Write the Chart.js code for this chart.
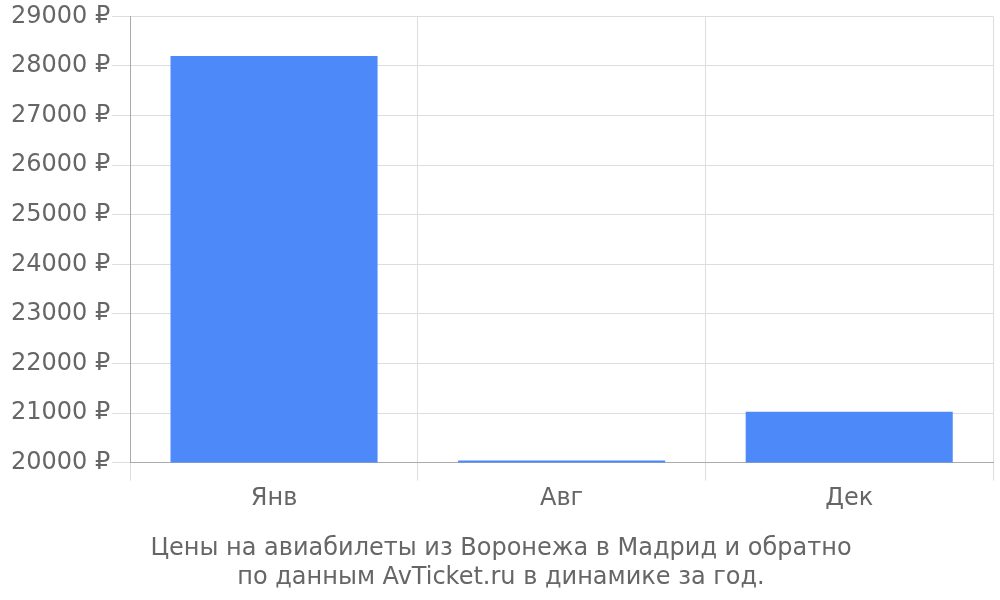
<!DOCTYPE html>
<html>
<head>
<meta charset="utf-8">
<script src="https://cdn.jsdelivr.net/npm/chart.js@4"></script>
<style>
  html, body { margin: 0; padding: 0; background: #fff; }
  #wrap { width: 1000px; height: 600px; }
</style>
</head>
<body>
<div id="wrap"><canvas id="chart"></canvas></div>
<script>
const months = ['Янв', 'Авг', 'Дек'];
const prices = [28200, 20040, 21025];
const titleLines = ['Цены на авиабилеты из Воронежа в Мадрид и обратно', 'по данным AvTicket.ru в динамике за год.'];

Chart.defaults.font.family = '"DejaVu Sans", sans-serif';
Chart.defaults.color = '#666';

const ctx = document.getElementById('chart').getContext('2d');
new Chart(ctx, {
  type: 'bar',
  data: {
    labels: months,
    datasets: [{
      data: prices,
      backgroundColor: '#4d89f9',
      borderWidth: 0
    }]
  },
  options: {
    responsive: true,
    maintainAspectRatio: false,
    animation: false,
    layout: { padding: { top: 0, right: 7, left: 9, bottom: 8 } },
    plugins: {
      legend: { display: false },
      tooltip: { enabled: false },
      title: {
        display: true,
        position: 'bottom',
        text: titleLines,
        color: '#666',
        font: { size: 24, weight: 'normal', lineHeight: 1.2 },
        padding: { top: 17, bottom: 0 }
      }
    },
    scales: {
      x: {
        grid: { color: '#ddd', tickLength: 18, offset: true },
        border: { color: '#aaa' },
        ticks: { font: { size: 24 }, color: '#666', padding: 4 }
      },
      y: {
        min: 20000,
        max: 29000,
        grid: { color: '#ddd', tickLength: 18 },
        border: { color: '#aaa' },
        ticks: {
          stepSize: 1000,
          font: { size: 24 },
          color: '#666',
          padding: 2,
          callback: v => v + ' ₽'
        }
      }
    }
  }
});
</script>
</body>
</html>
